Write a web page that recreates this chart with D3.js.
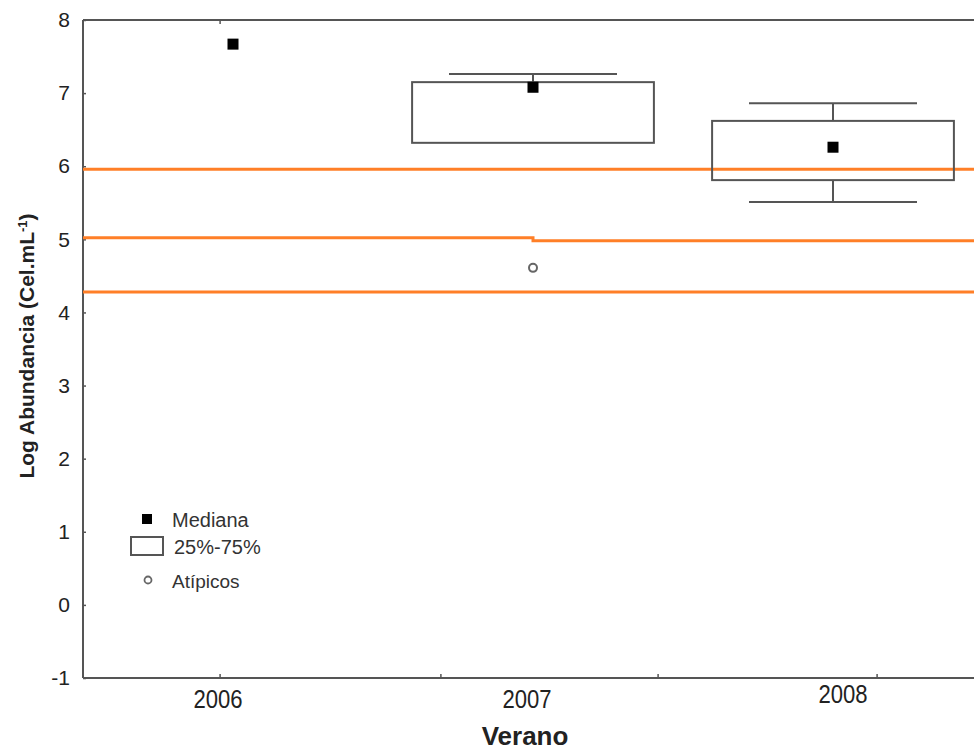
<!DOCTYPE html>
<html>
<head>
<meta charset="utf-8">
<script src="https://cdn.jsdelivr.net/npm/d3@7"></script>
<style>
  body { margin: 0; background: #fff; }
  text { font-family: "Liberation Sans", Arial, sans-serif; }
</style>
</head>
<body>
<div class="chart"></div>
<script>
// Chart values
var categories = ["2006", "2007", "2008"];
var medians = [7.67, 7.08, 6.26];
var q1 = [null, 6.32, 5.81];
var q3 = [null, 7.15, 6.62];
var whiskerLow = [null, null, 5.51];
var whiskerHigh = [null, 7.26, 6.86];
var outliers = [{ cat: 1, value: 4.61 }];
// orange reference lines: value left of 2007, value right of 2007
var refLeft = [5.96, 5.02, 4.28];
var refRight = [5.96, 4.98, 4.28];
var yTicks = [-1, 0, 1, 2, 3, 4, 5, 6, 7, 8];
var xMinorTicks = [-0.043, 0.693, 1.417, 2.147];

var svgWidth = 974;
var svgHeight = 751;

var margin = { top: 20, right: 0, bottom: 73, left: 83 };
var height = svgHeight - margin.top - margin.bottom;

var svg = d3.select(".chart")
  .append("svg")
  .attr("width", svgWidth)
  .attr("height", svgHeight);

var chartGroup = svg.append("g")
  .attr("transform", `translate(${margin.left}, ${margin.top})`);

// Scales (x in category index units)
var xScale = d3.scaleLinear().domain([0, 2]).range([233 - margin.left, 833 - margin.left]);
var yScale = d3.scaleLinear().domain([-1, 8]).range([height, 0]);
var right = svgWidth - margin.left + 5;

var axisColor = "#555";
var orange = "#ff7f27";

// Frame: left, top, bottom
chartGroup.append("line")
  .attr("x1", 0).attr("x2", 0).attr("y1", 0).attr("y2", height)
  .attr("stroke", axisColor).attr("stroke-width", 2);
chartGroup.append("line")
  .attr("x1", 0).attr("x2", right).attr("y1", 0).attr("y2", 0)
  .attr("stroke", axisColor).attr("stroke-width", 2);
chartGroup.append("line")
  .attr("x1", 0).attr("x2", right).attr("y1", height).attr("y2", height)
  .attr("stroke", axisColor).attr("stroke-width", 2);

// Y axis
var leftAxis = d3.axisLeft(yScale)
  .tickValues(yTicks)
  .tickSize(-3)
  .tickPadding(13)
  .tickFormat(d => d < 0 ? "-" + Math.abs(d) : String(d));
var yAxisG = chartGroup.append("g").call(leftAxis);
yAxisG.select(".domain").remove();
yAxisG.selectAll(".tick line").attr("stroke", axisColor).attr("stroke-width", 1.5);
yAxisG.selectAll(".tick text")
  .attr("font-size", "21px")
  .attr("fill", "#222")
  .style("font-family", "'Liberation Sans', Arial, sans-serif");

// X minor ticks (bottom, inward)
chartGroup.selectAll(".xtick")
  .data(xMinorTicks)
  .enter()
  .append("line")
  .attr("x1", d => xScale(d)).attr("x2", d => xScale(d))
  .attr("y1", height).attr("y2", height - 4)
  .attr("stroke", axisColor).attr("stroke-width", 1.5);
chartGroup.append("line")
  .attr("x1", xScale(xMinorTicks[0])).attr("x2", xScale(xMinorTicks[0]))
  .attr("y1", 0).attr("y2", 4)
  .attr("stroke", axisColor).attr("stroke-width", 1.5);

// X labels
var labelShift = [-15, -6, 10];
chartGroup.selectAll(".xlabel")
  .data(categories)
  .enter()
  .append("text")
  .attr("text-anchor", "middle")
  .attr("font-size", "26px")
  .attr("fill", "#222")
  .attr("transform", (d, i) => `translate(${xScale(i) + labelShift[i]}, ${height + (i === 2 ? 25 : 30)}) scale(0.85, 1)`)
  .text(d => d);

// Orange reference lines (step at 2007)
refLeft.forEach(function(v, i) {
  var path = d3.path();
  path.moveTo(0, yScale(v));
  path.lineTo(xScale(1), yScale(v));
  path.lineTo(xScale(1), yScale(refRight[i]));
  path.lineTo(right, yScale(refRight[i]));
  chartGroup.append("path")
    .attr("d", path.toString())
    .attr("fill", "none")
    .attr("stroke", orange)
    .attr("stroke-width", 3);
});

// Whiskers
categories.forEach(function(c, i) {
  var cx = xScale(i);
  var capHalf = xScale(0.28) - xScale(0);
  if (whiskerHigh[i] != null) {
    chartGroup.append("line")
      .attr("x1", cx).attr("x2", cx)
      .attr("y1", yScale(whiskerHigh[i])).attr("y2", yScale(q3[i]))
      .attr("stroke", axisColor).attr("stroke-width", 2);
    chartGroup.append("line")
      .attr("x1", cx - capHalf).attr("x2", cx + capHalf)
      .attr("y1", yScale(whiskerHigh[i])).attr("y2", yScale(whiskerHigh[i]))
      .attr("stroke", axisColor).attr("stroke-width", 2);
  }
  if (whiskerLow[i] != null) {
    chartGroup.append("line")
      .attr("x1", cx).attr("x2", cx)
      .attr("y1", yScale(q1[i])).attr("y2", yScale(whiskerLow[i]))
      .attr("stroke", axisColor).attr("stroke-width", 2);
    chartGroup.append("line")
      .attr("x1", cx - capHalf).attr("x2", cx + capHalf)
      .attr("y1", yScale(whiskerLow[i])).attr("y2", yScale(whiskerLow[i]))
      .attr("stroke", axisColor).attr("stroke-width", 2);
  }
});

// Boxes
var boxHalf = xScale(0.403) - xScale(0);
chartGroup.selectAll(".box")
  .data(categories.map((c, i) => i).filter(i => q1[i] != null))
  .enter()
  .append("rect")
  .attr("x", i => xScale(i) - boxHalf)
  .attr("y", i => yScale(q3[i]))
  .attr("width", boxHalf * 2)
  .attr("height", i => yScale(q1[i]) - yScale(q3[i]))
  .attr("fill", "none")
  .attr("stroke", axisColor)
  .attr("stroke-width", 2);

// Medians
chartGroup.selectAll(".median")
  .data(medians)
  .enter()
  .append("rect")
  .attr("x", (d, i) => xScale(i) - 5.5)
  .attr("y", d => yScale(d) - 5.5)
  .attr("width", 11)
  .attr("height", 11)
  .attr("fill", "#000");

// Outliers
chartGroup.selectAll(".outlier")
  .data(outliers)
  .enter()
  .append("circle")
  .attr("cx", d => xScale(d.cat))
  .attr("cy", d => yScale(d.value))
  .attr("r", 4)
  .attr("fill", "#fff")
  .attr("stroke", "#666")
  .attr("stroke-width", 2);

// Legend
var legend = svg.append("g");
legend.append("rect").attr("x", 142).attr("y", 514).attr("width", 10).attr("height", 10).attr("fill", "#000");
legend.append("text").attr("x", 172).attr("y", 527).attr("font-size", "20px").attr("fill", "#333").text("Mediana");
legend.append("rect").attr("x", 131).attr("y", 537).attr("width", 32).attr("height", 18)
  .attr("fill", "none").attr("stroke", axisColor).attr("stroke-width", 2);
legend.append("text").attr("x", 174).attr("y", 554).attr("font-size", "20px").attr("fill", "#333").text("25%-75%");
legend.append("circle").attr("cx", 148).attr("cy", 580).attr("r", 3.5)
  .attr("fill", "#fff").attr("stroke", "#666").attr("stroke-width", 1.8);
legend.append("text").attr("x", 172).attr("y", 588).attr("font-size", "19px").attr("fill", "#333").text("Atípicos");

// Axis titles
svg.append("text")
  .attr("transform", `translate(34, 346) rotate(-90)`)
  .attr("text-anchor", "middle")
  .attr("font-size", "21px")
  .attr("font-weight", "bold")
  .attr("fill", "#222")
  .html("Log Abundancia (Cel.mL<tspan baseline-shift='super' font-size='13px'>-1</tspan>)");

svg.append("text")
  .attr("x", 525)
  .attr("y", 745)
  .attr("text-anchor", "middle")
  .attr("font-size", "26px")
  .attr("font-weight", "bold")
  .attr("fill", "#222")
  .text("Verano");
</script>
</body>
</html>
